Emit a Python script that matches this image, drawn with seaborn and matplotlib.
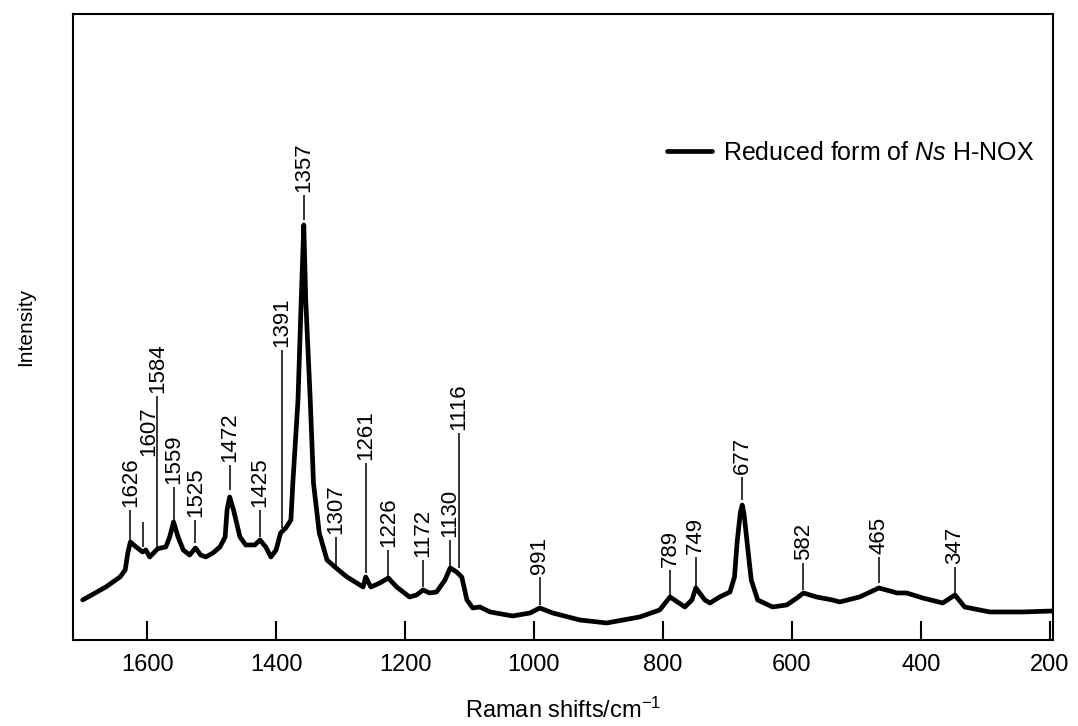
import matplotlib
matplotlib.use("Agg")
import matplotlib.pyplot as plt
import seaborn as sns

# spectrum (Raman shift in cm-1, intensity in arbitrary units)
raman_shift = [1700, 1664, 1642, 1634, 1630, 1626, 1617, 1607, 1602, 1596,
               1584, 1579, 1571, 1565, 1559, 1552, 1544, 1534, 1525, 1517,
               1509, 1498, 1487, 1479, 1476, 1472, 1466, 1456, 1447, 1433,
               1425, 1416, 1408, 1400, 1393, 1385, 1377, 1374, 1366, 1361,
               1357, 1354, 1347, 1342, 1333, 1321, 1307, 1290, 1275, 1265,
               1261, 1253, 1239, 1226, 1213, 1193, 1182, 1172, 1162, 1151,
               1138, 1130, 1120, 1112, 1104, 1095, 1084, 1068, 1033, 1006,
               991, 971, 929, 887, 836, 805, 789, 766, 755, 749,
               735, 727, 712, 696, 689, 685, 680, 677, 674, 669,
               663, 653, 630, 608, 592, 582, 562, 537, 526, 495,
               465, 437, 422, 397, 366, 347, 332, 293, 242, 196]
intensity = [40, 53, 63, 70, 87, 98, 93, 88, 90, 83,
             91, 92, 93, 103, 118, 103, 90, 85, 92, 85,
             83, 87, 93, 103, 130, 143, 130, 103, 95, 95,
             100, 93, 83, 90, 107, 112, 120, 157, 240, 340,
             415, 340, 240, 157, 107, 80, 72, 63, 57, 53,
             63, 53, 57, 62, 53, 43, 45, 50, 47, 48,
             60, 72, 68, 63, 40, 32, 33, 28, 24, 27,
             32, 27, 20, 17, 23, 30, 43, 33, 40, 52,
             40, 37, 43, 48, 63, 97, 127, 135, 125, 95,
             60, 40, 33, 35, 42, 47, 43, 40, 38, 43,
             52, 47, 47, 42, 37, 45, 33, 28, 28, 29]

# peak labels and their leader lines
peak_labels = [1626, 1607, 1584, 1559, 1525, 1472, 1425, 1391, 1357, 1307, 1261,
               1226, 1172, 1130, 1116, 991, 789, 749, 677, 582, 465, 347]
line_low = [100, 93, 92, 118, 97, 150, 103, 112, 420, 73, 67,
            63, 53, 73, 72, 35, 45, 53, 140, 50, 57, 47]
line_high = [130, 118, 244, 153, 120, 175, 130, 290, 445, 103, 177,
             90, 80, 100, 207, 63, 70, 83, 163, 77, 83, 73]
# labels whose text is not sitting right on top of its line
text_override = {1607: (1598, 184)}

sns.set_style("white")
plt.rcParams["font.family"] = ["Liberation Sans", "DejaVu Sans"]
plt.rcParams["mathtext.fontset"] = "custom"
plt.rcParams["mathtext.rm"] = "Liberation Sans"
plt.rcParams["mathtext.it"] = "Liberation Sans:italic"
plt.rcParams["text.color"] = "black"
plt.rcParams["axes.labelcolor"] = "black"
plt.rcParams["xtick.color"] = "black"

fig = plt.figure(figsize=(10.78, 7.26), dpi=100)
ax = fig.add_axes([0.0677, 0.1185, 0.9091, 0.8622])

sns.lineplot(x=raman_shift, y=intensity, ax=ax, color="black", linewidth=3.4,
             errorbar=None, label="Reduced form of $\\it{Ns}$ H-NOX",
             solid_joinstyle="round", solid_capstyle="round")

ax.vlines(peak_labels, line_low, line_high, color="black", linewidth=1.1)
for pk, hi in zip(peak_labels, line_high):
    tx, ty = text_override.get(pk, (pk, hi + 3))
    ax.text(tx, ty, str(pk), rotation=90, ha="center", va="bottom", fontsize=16)

ax.set_xlim(1715, 195)
ax.set_ylim(0, 626)
ax.set_xticks([1600, 1400, 1200, 1000, 800, 600, 400, 200])
ax.set_yticks([])
ax.tick_params(axis="x", direction="in", length=14, width=1.5, labelsize=17,
               pad=10, top=False, bottom=True)
for sp in ax.spines.values():
    sp.set_linewidth(1.5)
    sp.set_color("black")

ax.set_xlabel("Raman shifts/cm$^{-1}$", fontsize=17, labelpad=16)
ax.set_ylabel("Intensity", fontsize=15, labelpad=27)

ax.legend(loc="center left", bbox_to_anchor=(0.606, 0.778), frameon=False,
          fontsize=18, handlelength=1.8, handletextpad=0.45, borderpad=0,
          borderaxespad=0)

fig.savefig("out.png", dpi=100)
